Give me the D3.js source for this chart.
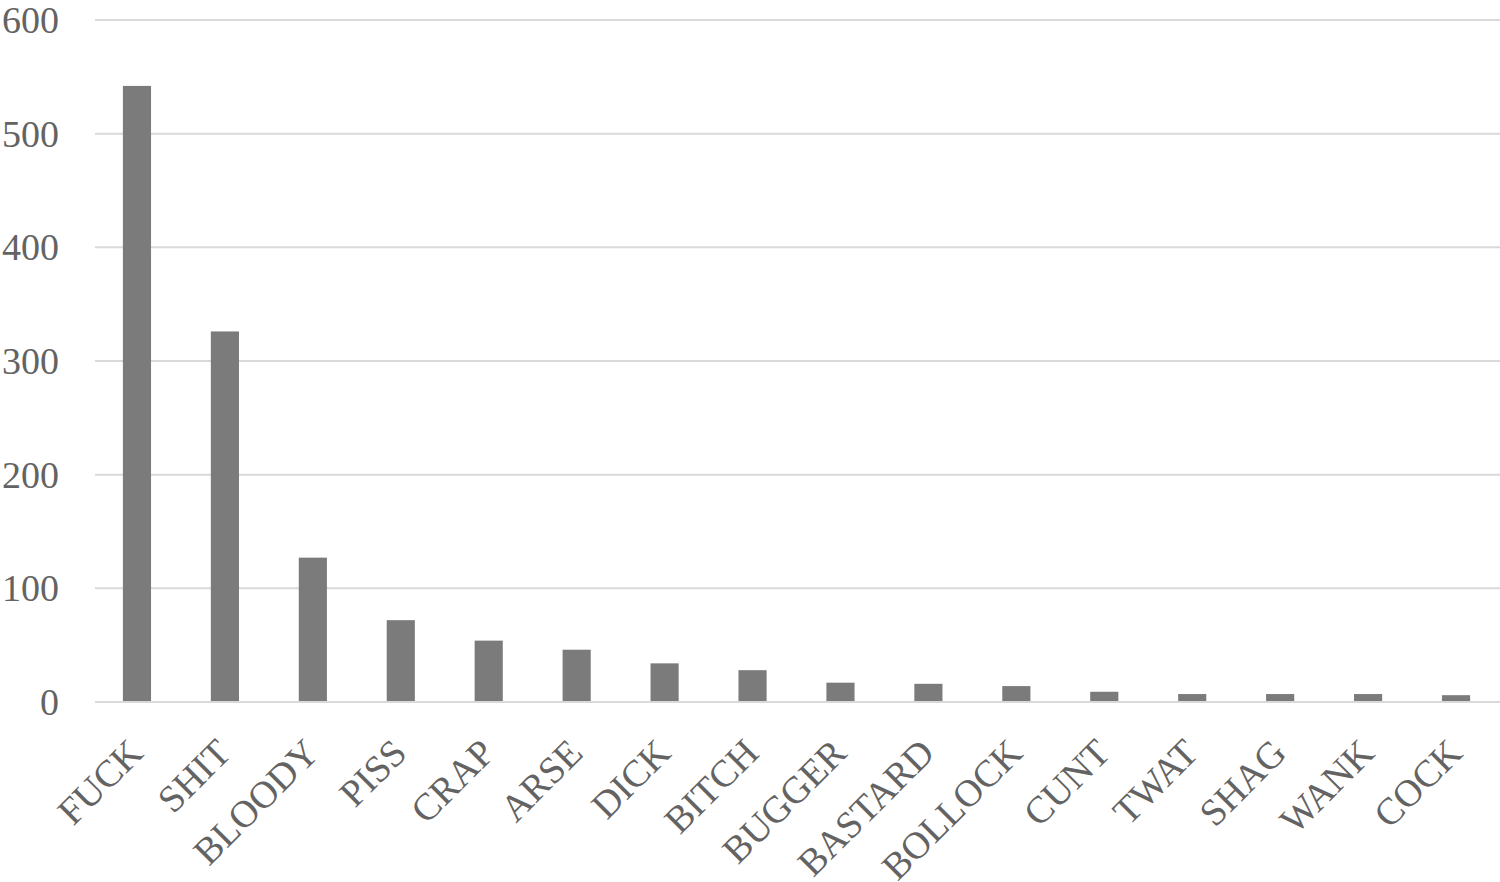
<!DOCTYPE html>
<html>
<head>
<meta charset="utf-8">
<script src="https://cdn.jsdelivr.net/npm/d3@7"></script>
<style>
html,body{margin:0;padding:0;background:#fff;}
svg{display:block;}
</style>
</head>
<body>
<svg id="chart" width="1500" height="882"></svg>
<script>
const categories = ["FUCK","SHIT","BLOODY","PISS","CRAP","ARSE","DICK","BITCH","BUGGER","BASTARD","BOLLOCK","CUNT","TWAT","SHAG","WANK","COCK"];
const counts = [542, 326, 127, 72, 54, 46, 34, 28, 17, 16, 14, 9, 7, 7, 7, 6];
const yTicks = [0, 100, 200, 300, 400, 500, 600];

const svg = d3.select("#chart");
const x = d3.scaleBand().domain(categories).range([93, 1500]).paddingInner(0.68).paddingOuter(0.34);
const y = d3.scaleLinear().domain([0, 600]).range([702, 20]);

const font = "'Liberation Serif','Times New Roman',serif";

// gridlines
svg.append("g").selectAll("line").data(yTicks).join("line")
  .attr("x1", 95).attr("x2", 1500)
  .attr("y1", d => y(d)).attr("y2", d => y(d))
  .attr("stroke", "#d9d9d9").attr("stroke-width", 2);

// y labels
svg.append("g").selectAll("text").data(yTicks).join("text")
  .attr("x", 59).attr("y", d => y(d))
  .attr("text-anchor", "end").attr("dominant-baseline", "central")
  .attr("font-family", font).attr("font-size", 38).attr("fill", "#636363")
  .text(d => d);

// bars
svg.append("g").selectAll("rect").data(categories).join("rect")
  .attr("x", d => x(d)).attr("width", x.bandwidth())
  .attr("y", (d, i) => y(counts[i]))
  .attr("height", (d, i) => y(0) - y(counts[i]) - 1)
  .attr("fill", "#7b7b7b");

// x labels
svg.append("g").selectAll("text").data(categories).join("text")
  .attr("transform", d => `translate(${x(d) + x.bandwidth() / 2 + 8},755) rotate(-45)`)
  .attr("text-anchor", "end")
  .attr("font-family", font).attr("font-size", 38).attr("fill", "#636363")
  .text(d => d);
</script>
</body>
</html>
